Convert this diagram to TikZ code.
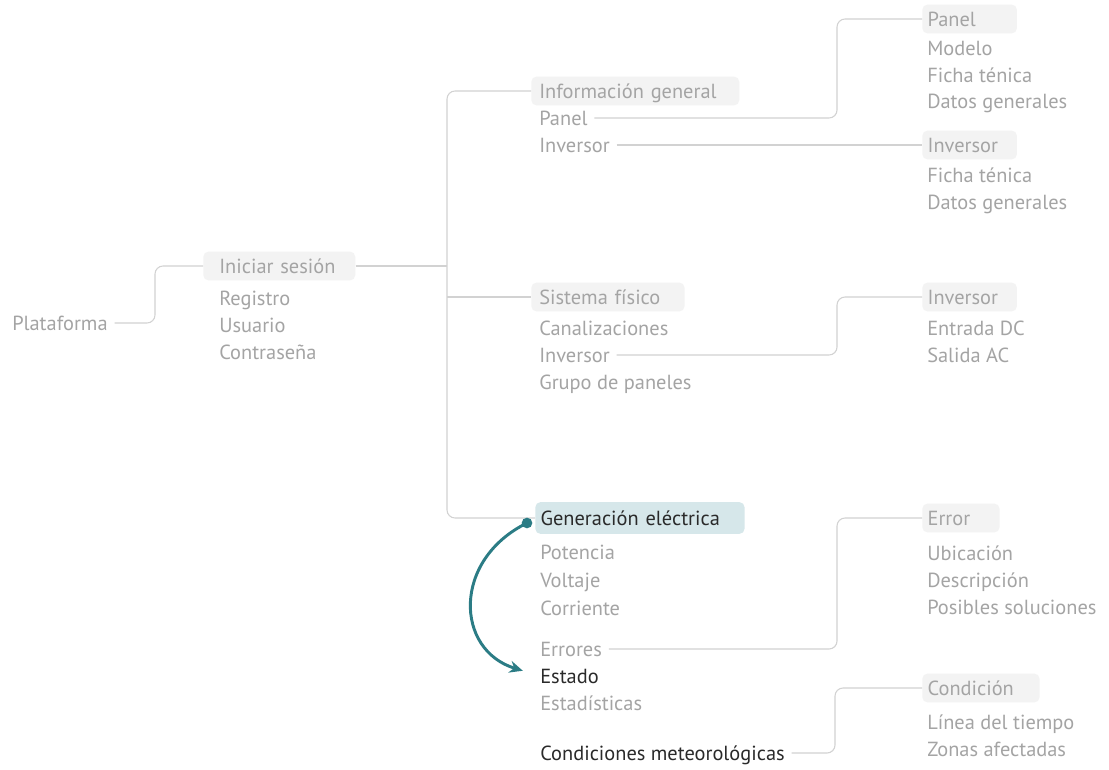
\documentclass[tikz,border=0pt]{standalone}
\usepackage{fontspec}
\setmainfont{PT Sans}
\usetikzlibrary{arrows.meta}
\definecolor{txtgray}{HTML}{A4A4A4}
\definecolor{txtdark}{HTML}{2A2A2A}
\definecolor{linegray}{HTML}{D2D2D2}
\definecolor{boxgray}{HTML}{F3F3F3}
\definecolor{boxteal}{HTML}{D6E7EA}
\definecolor{accent}{HTML}{2B7C85}
\begin{document}
\begin{tikzpicture}[x=0.75pt,y=-0.75pt,
  font=\fontsize{15.3}{17}\selectfont,
  item/.style={anchor=west, inner sep=0pt, text height=11.5pt, text depth=0pt, text=txtgray},
  itemdark/.style={item, text=txtdark},
  tag/.style={anchor=west, fill=boxgray, rounded corners=4pt, inner ysep=5.1pt,
    inner xsep=4pt, text height=11.5pt, text depth=0pt, align=left, text=txtgray},
  conn/.style={draw=linegray, line width=0.8pt, rounded corners=6pt},
  fromlabel/.style={conn, shorten <=5pt},
  dotnode/.style={circle, fill=accent, inner sep=0pt, minimum size=8pt},
  flow/.style={draw=accent, line width=2.2pt, -{Stealth[length=10pt,width=9pt]}, shorten >=13.5pt}
]
\fill[white] (0,0) rectangle (1109,770);
\path[use as bounding box] (0,0) rectangle (1109,770);

% root and login
\node[item] (plat) at (12,323) {Plataforma};
\node[tag, inner xsep=12pt, text width=90pt] (ini) at (203,266) {Iniciar sesión};
\node[item] (reg) at (219,298) {Registro};
\node[item] (usr) at (219,325) {Usuario};
\node[item] (pwd) at (219,352) {Contraseña};

% general information
\node[tag, inner xsep=6pt, text width=144pt] (info) at (531,91) {Información general};
\node[item] (panel) at (539,118) {Panel};
\node[item] (inv1) at (539,145) {Inversor};

\node[tag, text width=63pt] (panelT) at (922,19) {Panel};
\node[item] (modelo) at (927,48) {Modelo};
\node[item] (ficha1) at (927,75) {Ficha ténica};
\node[item] (datos1) at (927,101) {Datos generales};

\node[tag, text width=63pt] (invT1) at (922,145) {Inversor};
\node[item] (ficha2) at (927,175) {Ficha ténica};
\node[item] (datos2) at (927,202) {Datos generales};

% physical system
\node[tag, inner xsep=6pt, text width=103pt] (sis) at (531,297) {Sistema físico};
\node[item] (canal) at (539,328) {Canalizaciones};
\node[item] (inv2) at (539,355) {Inversor};
\node[item] (grupo) at (539,382) {Grupo de paneles};

\node[tag, text width=63pt] (invT2) at (922,297) {Inversor};
\node[item] (entrada) at (927,328) {Entrada DC};
\node[item] (salida) at (927,355) {Salida AC};

% power generation
\node[tag, fill=boxteal, text=txtdark, inner ysep=6.2pt, text width=149pt] (gen) at (535,518) {Generación eléctrica};
\node[item] (pot) at (540,552) {Potencia};
\node[item] (volt) at (540,580) {Voltaje};
\node[item] (corr) at (540,608) {Corriente};
\node[item] (errs) at (540,649) {Errores};
\node[itemdark] (estado) at (540,676) {Estado};
\node[item] (estad) at (540,703) {Estadísticas};
\node[itemdark] (cond) at (540,753) {Condiciones meteorológicas};

\node[tag, text width=50pt] (errT) at (922,518) {Error};
\node[item] (ubic) at (927,553) {Ubicación};
\node[item] (desc) at (927,580) {Descripción};
\node[item] (sol) at (927,607) {Posibles soluciones};

\node[tag, text width=80pt] (condT) at (922,688) {Condición};
\node[item] (linea) at (927,722) {Línea del tiempo};
\node[item] (zonas) at (927,749) {Zonas afectadas};

% connectors
\coordinate (sp) at (447,266);
\draw[fromlabel] (plat.east) -| (155,290) |- (ini.west);
\draw[conn] (ini.east) -- (sp);
\draw[conn] (info.west) -| (sp) |- (gen.west);
\draw[conn] (sp |- sis.west) -- (sis.west);

\draw[fromlabel] (panel.east) -| (837,60) |- (panelT.west);
\draw[fromlabel] (inv1.east) -- (invT1.west);
\draw[fromlabel] (inv2.east) -| (837,320) |- (invT2.west);
\draw[fromlabel] (errs.east) -| (837,580) |- (errT.west);
\draw[fromlabel] (cond.east) -| (835,720) |- (condT.west);

% flow arrow
\node[dotnode] (adot) at (527,523) {};
\draw[flow] (adot.center) .. controls (452,560) and (455,650) .. (estado.west);
\end{tikzpicture}
\end{document}
